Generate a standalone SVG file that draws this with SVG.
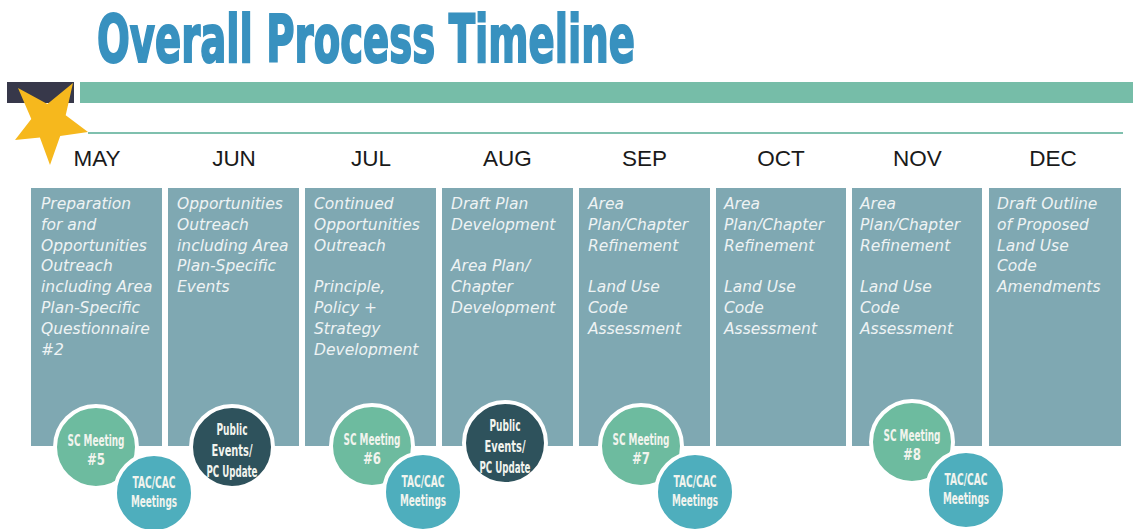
<svg xmlns="http://www.w3.org/2000/svg" width="1133" height="529" viewBox="0 0 1133 529">
<style>
.title{font-family:"DejaVu Sans Condensed","DejaVu Sans",sans-serif;font-weight:bold;font-size:66px;fill:#3891bf;stroke:#3891bf;stroke-width:2}
.month{font-family:"Liberation Sans",Arial,sans-serif;font-size:22.5px;fill:#1a1a1a;text-anchor:middle}
.col{fill:#7fa8b2}
.ct{font-family:"DejaVu Sans",sans-serif;font-style:italic;font-size:15.5px;fill:#eef3f4}
.sc{fill:#6dbb9f;stroke:#ffffff;stroke-width:4}
.tac{fill:#4eaebd;stroke:#ffffff;stroke-width:4}
.pub{fill:#2e525c;stroke:#ffffff;stroke-width:4}
.cl{font-family:"DejaVu Sans Condensed","DejaVu Sans",sans-serif;font-weight:bold;font-size:16px;fill:#f2f4ee;text-anchor:middle}
</style>
<rect width="1133" height="529" fill="#ffffff"/>
<g id="title">
<text class="title" x="97" y="62" textLength="538" lengthAdjust="spacingAndGlyphs">Overall Process Timeline</text>
</g>
<g id="header">
<rect x="7" y="82" width="67" height="21" fill="#37384a"/>
<rect x="80" y="82" width="1053" height="21" fill="#76bda8"/>
<line x1="88" y1="133" x2="1123" y2="133" stroke="#7fc0ae" stroke-width="2"/>
<polygon points="18,88 47.4,104.1 73,83 65.7,115.3 88,132 60.2,136.1 50,165 39.9,137.5 15,140 31.3,118.9" fill="#f6b81d"/>
</g>
<g id="months">
<text class="month" x="97" y="166">MAY</text>
<text class="month" x="234" y="166">JUN</text>
<text class="month" x="371" y="166">JUL</text>
<text class="month" x="507.5" y="166">AUG</text>
<text class="month" x="644.5" y="166">SEP</text>
<text class="month" x="781" y="166">OCT</text>
<text class="month" x="917.5" y="166">NOV</text>
<text class="month" x="1053" y="166">DEC</text>
</g>
<g id="col-may">
<rect class="col" x="31" y="188" width="131" height="258"/>
<text class="ct"><tspan x="41" y="209">Preparation</tspan><tspan x="41" y="229.8">for and</tspan><tspan x="41" y="250.6">Opportunities</tspan><tspan x="41" y="271.4">Outreach</tspan><tspan x="41" y="292.2">including Area</tspan><tspan x="41" y="313">Plan-Specific</tspan><tspan x="41" y="333.8">Questionnaire</tspan><tspan x="41" y="354.6">#2</tspan></text>
</g>
<g id="col-jun">
<rect class="col" x="168" y="188" width="131" height="258"/>
<text class="ct"><tspan x="177" y="209">Opportunities</tspan><tspan x="177" y="229.8">Outreach</tspan><tspan x="177" y="250.6">including Area</tspan><tspan x="177" y="271.4">Plan-Specific</tspan><tspan x="177" y="292.2">Events</tspan></text>
</g>
<g id="col-jul">
<rect class="col" x="305" y="188" width="131" height="258"/>
<text class="ct"><tspan x="314" y="209">Continued</tspan><tspan x="314" y="229.8">Opportunities</tspan><tspan x="314" y="250.6">Outreach</tspan><tspan x="314" y="292.2">Principle,</tspan><tspan x="314" y="313">Policy +</tspan><tspan x="314" y="333.8">Strategy</tspan><tspan x="314" y="354.6">Development</tspan></text>
</g>
<g id="col-aug">
<rect class="col" x="442" y="188" width="131" height="258"/>
<text class="ct"><tspan x="451" y="209">Draft Plan</tspan><tspan x="451" y="229.8">Development</tspan><tspan x="451" y="271.4">Area Plan/</tspan><tspan x="451" y="292.2">Chapter</tspan><tspan x="451" y="313">Development</tspan></text>
</g>
<g id="col-sep">
<rect class="col" x="579" y="188" width="131" height="258"/>
<text class="ct"><tspan x="588" y="209">Area</tspan><tspan x="588" y="229.8">Plan/Chapter</tspan><tspan x="588" y="250.6">Refinement</tspan><tspan x="588" y="292.2">Land Use</tspan><tspan x="588" y="313">Code</tspan><tspan x="588" y="333.8">Assessment</tspan></text>
</g>
<g id="col-oct">
<rect class="col" x="716" y="188" width="130" height="258"/>
<text class="ct"><tspan x="724" y="209">Area</tspan><tspan x="724" y="229.8">Plan/Chapter</tspan><tspan x="724" y="250.6">Refinement</tspan><tspan x="724" y="292.2">Land Use</tspan><tspan x="724" y="313">Code</tspan><tspan x="724" y="333.8">Assessment</tspan></text>
</g>
<g id="col-nov">
<rect class="col" x="852" y="188" width="130" height="258"/>
<text class="ct"><tspan x="860" y="209">Area</tspan><tspan x="860" y="229.8">Plan/Chapter</tspan><tspan x="860" y="250.6">Refinement</tspan><tspan x="860" y="292.2">Land Use</tspan><tspan x="860" y="313">Code</tspan><tspan x="860" y="333.8">Assessment</tspan></text>
</g>
<g id="col-dec">
<rect class="col" x="989" y="188" width="132" height="258"/>
<text class="ct"><tspan x="997" y="209">Draft Outline</tspan><tspan x="997" y="229.8">of Proposed</tspan><tspan x="997" y="250.6">Land Use</tspan><tspan x="997" y="271.4">Code</tspan><tspan x="997" y="292.2">Amendments</tspan></text>
</g>
<g id="connectors"></g>
<g id="sc5">
<circle class="sc" cx="96" cy="447" r="41"/>
<text class="cl" x="96" y="446" textLength="57" lengthAdjust="spacingAndGlyphs">SC Meeting</text>
<text class="cl" x="96" y="465" textLength="18" lengthAdjust="spacingAndGlyphs">#5</text>
</g>
<g id="tac-may">
<circle class="tac" cx="154" cy="493" r="39"/>
<text class="cl" x="154" y="488" textLength="43" lengthAdjust="spacingAndGlyphs">TAC/CAC</text>
<text class="cl" x="154" y="507" textLength="46" lengthAdjust="spacingAndGlyphs">Meetings</text>
</g>
<g id="pub-jun">
<circle class="pub" cx="232" cy="447" r="41"/>
<text class="cl" x="232" y="435" textLength="31" lengthAdjust="spacingAndGlyphs">Public</text>
<text class="cl" x="232" y="456" textLength="41" lengthAdjust="spacingAndGlyphs">Events/</text>
<text class="cl" x="232" y="477" textLength="51" lengthAdjust="spacingAndGlyphs">PC Update</text>
</g>
<g id="sc6">
<circle class="sc" cx="372" cy="446" r="41"/>
<text class="cl" x="372" y="445" textLength="57" lengthAdjust="spacingAndGlyphs">SC Meeting</text>
<text class="cl" x="372" y="464" textLength="18" lengthAdjust="spacingAndGlyphs">#6</text>
</g>
<g id="tac-jul">
<circle class="tac" cx="423" cy="492" r="39"/>
<text class="cl" x="423" y="487" textLength="43" lengthAdjust="spacingAndGlyphs">TAC/CAC</text>
<text class="cl" x="423" y="506" textLength="46" lengthAdjust="spacingAndGlyphs">Meetings</text>
</g>
<g id="pub-aug">
<circle class="pub" cx="505" cy="443" r="41"/>
<text class="cl" x="505" y="431" textLength="31" lengthAdjust="spacingAndGlyphs">Public</text>
<text class="cl" x="505" y="452" textLength="41" lengthAdjust="spacingAndGlyphs">Events/</text>
<text class="cl" x="505" y="473" textLength="51" lengthAdjust="spacingAndGlyphs">PC Update</text>
</g>
<g id="sc7">
<circle class="sc" cx="641" cy="446" r="41"/>
<text class="cl" x="641" y="445" textLength="57" lengthAdjust="spacingAndGlyphs">SC Meeting</text>
<text class="cl" x="641" y="464" textLength="18" lengthAdjust="spacingAndGlyphs">#7</text>
</g>
<g id="tac-sep">
<circle class="tac" cx="695" cy="492" r="39"/>
<text class="cl" x="695" y="487" textLength="43" lengthAdjust="spacingAndGlyphs">TAC/CAC</text>
<text class="cl" x="695" y="506" textLength="46" lengthAdjust="spacingAndGlyphs">Meetings</text>
</g>
<g id="sc8">
<circle class="sc" cx="912" cy="442" r="41"/>
<text class="cl" x="912" y="441" textLength="57" lengthAdjust="spacingAndGlyphs">SC Meeting</text>
<text class="cl" x="912" y="460" textLength="18" lengthAdjust="spacingAndGlyphs">#8</text>
</g>
<g id="tac-nov">
<circle class="tac" cx="966" cy="490" r="39"/>
<text class="cl" x="966" y="485" textLength="43" lengthAdjust="spacingAndGlyphs">TAC/CAC</text>
<text class="cl" x="966" y="504" textLength="46" lengthAdjust="spacingAndGlyphs">Meetings</text>
</g>
</svg>
